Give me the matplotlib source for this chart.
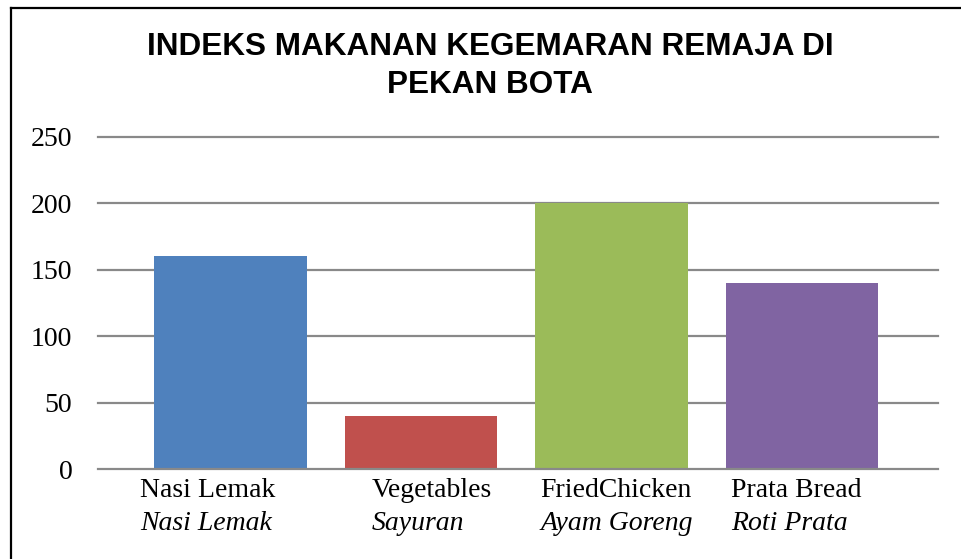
import matplotlib.pyplot as plt
from matplotlib.lines import Line2D
from matplotlib.transforms import blended_transform_factory

# index values per food
foods_en = ["Nasi Lemak", "Vegetables", "FriedChicken", "Prata Bread"]
foods_ms = ["Nasi Lemak", "Sayuran", "Ayam Goreng", "Roti Prata"]
values = [160, 40, 200, 140]
colors = ["#4F81BD", "#C0504D", "#9BBB59", "#8064A2"]
yticks = [0, 50, 100, 150, 200, 250]

title = "INDEKS MAKANAN KEGEMARAN REMAJA DI\nPEKAN BOTA"

serif = "Liberation Serif"
grid_col = "#898989"

fig = plt.figure(figsize=(9.61, 5.59), dpi=100)
ax = fig.add_axes([0.102, 0.1605, 0.8738, 0.595])

x = list(range(len(values)))
ax.bar(x, values, width=0.8, color=colors, zorder=2)

# horizontal gridlines, drawn by hand so the 0 and 250 lines are not clipped
for t in yticks:
    ax.axhline(t, color=grid_col, lw=1.6, zorder=3 if t == 0 else 1, clip_on=False)

ax.set_xlim(-0.696, 3.712)
ax.set_ylim(0, 250)
ax.set_yticks(yticks)
ax.set_xticks([])
ax.tick_params(axis="y", length=0, pad=18.5)
for lab in ax.get_yticklabels():
    lab.set_fontfamily(serif)
    lab.set_fontsize(20)
for s in ax.spines.values():
    s.set_visible(False)

# two-line category labels: english on top, malay in italics below
label_x = [-0.475, 0.741, 1.625, 2.627]
tr = blended_transform_factory(ax.transData, fig.transFigure)
for lx, en, ms in zip(label_x, foods_en, foods_ms):
    ax.text(lx, 0.111, en, transform=tr, ha="left", va="baseline",
            family=serif, fontsize=20)
    ax.text(lx, 0.052, ms, transform=tr, ha="left", va="baseline",
            family=serif, fontsize=20, style="italic")

fig.text(0.510, 0.882, title, ha="center", va="center", family="Liberation Sans",
         fontweight="bold", fontsize=22.7, linespacing=1.36)

# frame on top and left
fig.add_artist(Line2D([11 / 961, 11 / 961], [0, 1 - 8 / 559], color="black", lw=1.6,
                      transform=fig.transFigure))
fig.add_artist(Line2D([11 / 961, 1], [1 - 8 / 559, 1 - 8 / 559], color="black", lw=1.6,
                      transform=fig.transFigure))

fig.savefig("out.png", dpi=100)
